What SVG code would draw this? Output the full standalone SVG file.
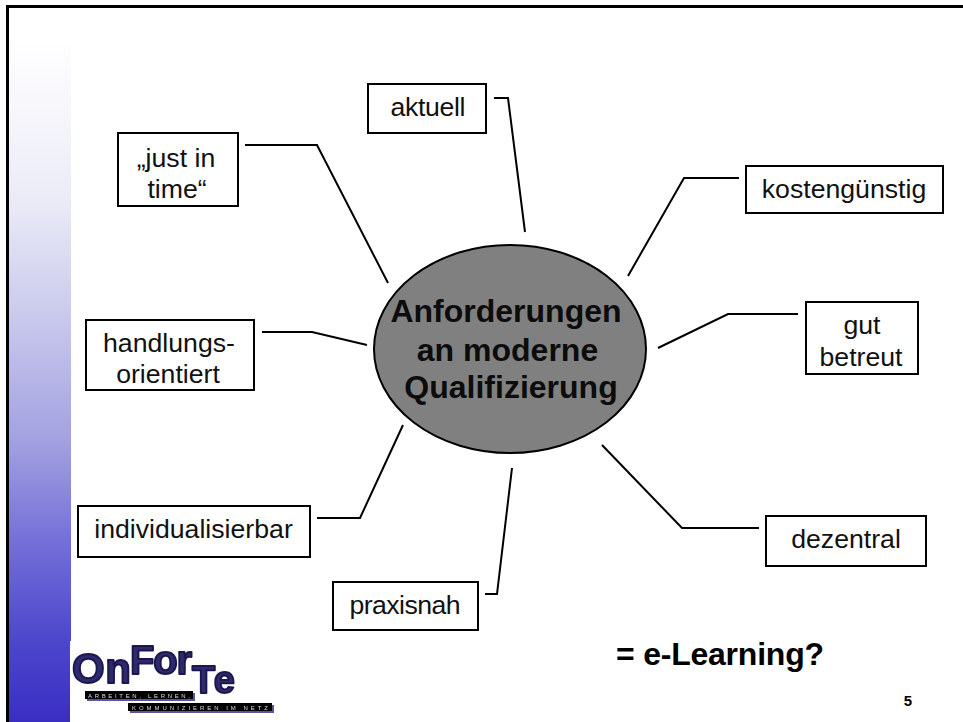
<svg xmlns="http://www.w3.org/2000/svg" width="963" height="722" viewBox="0 0 963 722">
<style>
text{font-family:"Liberation Sans",Arial,sans-serif;fill:#000}
.box rect{fill:#fff;stroke:#000;stroke-width:2}
.box text{font-size:26.670px;text-anchor:middle;fill:#111}
#connectors path{fill:none;stroke:#000;stroke-width:2}
.hd{font-size:32px;font-weight:bold;text-anchor:middle;fill:#0c0c0c}
.lt{font-size:6px;fill:#ddd}
.lg{font-weight:bold;stroke-width:2;stroke-linejoin:round}
</style>
<defs>
<linearGradient id="side" gradientUnits="userSpaceOnUse" x1="0" y1="38" x2="0" y2="722">
<stop offset="0" stop-color="#ffffff"/><stop offset="0.237" stop-color="#ebebf7"/><stop offset="0.412" stop-color="#c8c8ec"/><stop offset="0.588" stop-color="#a3a1e0"/><stop offset="0.734" stop-color="#7570d8"/><stop offset="0.88" stop-color="#4d47cc"/><stop offset="1" stop-color="#3a2ec2"/>
</linearGradient>
<filter id="soft" x="-5%" y="-5%" width="110%" height="110%"><feGaussianBlur stdDeviation="0.45"/></filter>
</defs>
<rect width="963" height="722" fill="#fff"/>
<rect x="9" y="38" width="62" height="684" fill="url(#side)"/>
<path d="M7.500 722V6.500H963" fill="none" stroke="#000" stroke-width="3"/>
<g id="connectors">
<path d="M245 145H317L388 283"/>
<path d="M494 98H508L525 232"/>
<path d="M739 178H684L628 276"/>
<path d="M798 314H728L658 348"/>
<path d="M262 332H312L367 345"/>
<path d="M403 425L360 518H317"/>
<path d="M512 468L497 594H485"/>
<path d="M602 445L682 528H759"/>
</g>
<g id="center"><ellipse cx="510" cy="349" rx="136" ry="104" fill="#808080" stroke="#000" stroke-width="2"/>
<text class="hd" x="506" y="322">Anforderungen</text>
<text class="hd" x="507.500" y="361">an moderne</text>
<text class="hd" x="511" y="398">Qualifizierung</text></g>
<g id="n-aktuell" class="box"><rect x="368" y="84" width="118" height="49"/><text x="428" y="116" textLength="75">aktuell</text></g>
<g id="n-justintime" class="box"><rect x="118" y="133" width="120" height="73"/><text x="176" y="167">„just in</text><text x="177" y="198">time“</text></g>
<g id="n-kosten" class="box"><rect x="746" y="166" width="197" height="47"/><text x="844" y="198">kostengünstig</text></g>
<g id="n-gut" class="box"><rect x="806" y="302" width="112" height="72"/><text x="862" y="334">gut</text><text x="861" y="366">betreut</text></g>
<g id="n-handlung" class="box"><rect x="86" y="320" width="168" height="70"/><text x="169" y="352">handlungs-</text><text x="168" y="383">orientiert</text></g>
<g id="n-indiv" class="box"><rect x="78" y="506" width="232" height="51"/><text x="193.500" y="538">individualisierbar</text></g>
<g id="n-praxis" class="box"><rect x="333" y="582" width="145" height="48"/><text x="405" y="614" textLength="111">praxisnah</text></g>
<g id="n-dezentral" class="box"><rect x="766" y="516" width="160" height="50"/><text x="846" y="548">dezentral</text></g>
<text x="616" y="665" font-size="32" font-weight="bold" textLength="208">= e-Learning?</text>
<text x="908" y="706" font-size="15" font-weight="bold" text-anchor="middle">5</text>
<g id="logo">
<rect x="70" y="641" width="210" height="81" fill="#fff"/>
<g filter="url(#soft)">
<g transform="translate(2 2)" style="opacity:.9">
<rect x="85" y="691" width="108" height="8" fill="#4a4490"/>
<rect x="128" y="703" width="144" height="8" fill="#4a4490"/>
</g>
<text class="lg" x="72" y="683" font-size="42" textLength="59" style="fill:#2f2a6e;stroke:#1d1950">On</text>
<text class="lg" x="130" y="674" font-size="40" textLength="62" style="fill:#2f2a6e;stroke:#1d1950">For</text>
<text class="lg" x="192" y="693" font-size="38" textLength="43" style="fill:#2f2a6e;stroke:#1d1950">Te</text>
<rect x="85" y="691" width="108" height="8" fill="#000"/>
<rect x="128" y="703" width="144" height="8" fill="#000"/>
<text class="lt" x="88" y="697.500" textLength="102">ARBEITEN, LERNEN,</text>
<text class="lt" x="132" y="709.500" textLength="136">KOMMUNIZIEREN IM NETZ</text>
</g>
</g>
</svg>
